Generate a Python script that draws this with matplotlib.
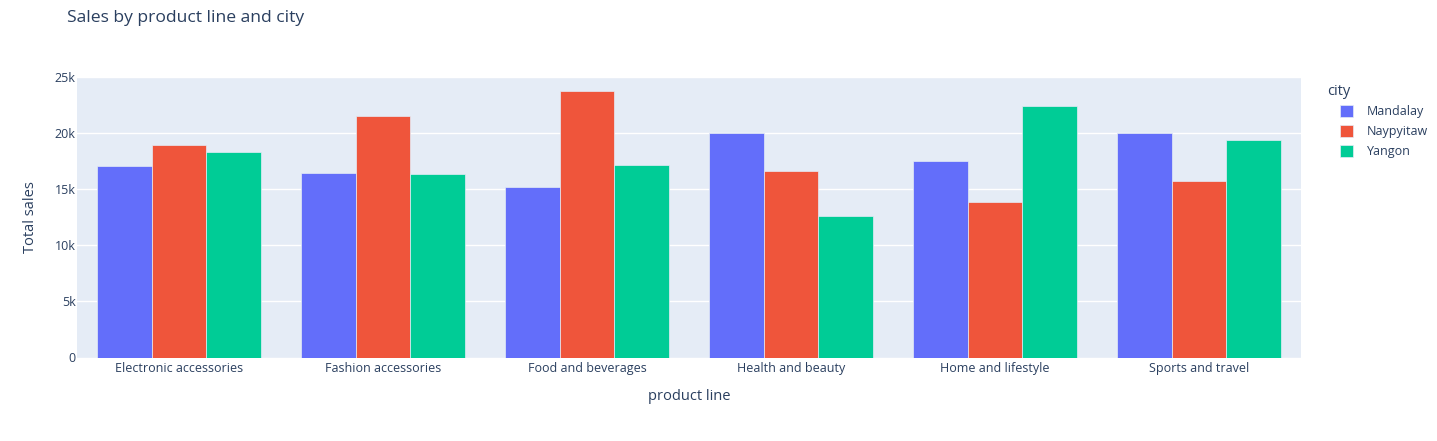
import matplotlib
matplotlib.use("Agg")
import matplotlib.pyplot as plt
from matplotlib.patches import Rectangle
import numpy as np

categories = ["Electronic accessories", "Fashion accessories", "Food and beverages",
              "Health and beauty", "Home and lifestyle", "Sports and travel"]
cities = ["Mandalay", "Naypyitaw", "Yangon"]
mandalay = [17051.44, 16413.32, 15214.89, 19980.66, 17549.16, 19988.20]
naypyitaw = [18968.97, 21560.07, 23766.86, 16615.33, 13895.55, 15761.93]
yangon = [18317.11, 16332.51, 17163.10, 12597.75, 22417.19, 19372.70]
colors = ["#636efa", "#EF553B", "#00cc96"]
y_ticks = [0, 5000, 10000, 15000, 20000, 25000]
y_ticklabels = ["0", "5k", "10k", "15k", "20k", "25k"]

plt.rcParams['font.family'] = ['Open Sans', 'DejaVu Sans']
txt = "#2a3f5f"

fig = plt.figure(figsize=(14.37, 4.41), dpi=100)
W, H = 1437, 441
L, R, T, B = 77, 1301, 77, 357.5
ax = fig.add_axes([L / W, (H - B) / H, (R - L) / W, (B - T) / H])
ax.set_facecolor("#E5ECF6")

x = np.arange(len(categories))
bw = 0.8 / 3
series = [mandalay, naypyitaw, yangon]
for i, (vals, c, name) in enumerate(zip(series, colors, cities)):
    ax.bar(x + (i - 1) * bw, vals, width=bw, color=c, edgecolor="#E5ECF6",
           linewidth=0.5, label=name, zorder=3)

ax.set_xlim(-0.5, len(categories) - 0.5)
ax.set_ylim(0, 25000)
ax.set_yticks(y_ticks)
ax.set_yticklabels(y_ticklabels)
ax.set_xticks(x)
ax.set_xticklabels(categories)
ax.grid(axis="y", color="white", linewidth=1, zorder=0)
ax.set_axisbelow(True)
for s in ax.spines.values():
    s.set_visible(False)
ax.tick_params(axis="both", length=0, colors=txt, labelsize=9)
ax.tick_params(axis="y", pad=1)
ax.tick_params(axis="x", pad=3)

fig.text((L + R) / 2 / W, 1 - 396 / H, "product line", fontsize=10.5, color=txt,
         ha="center", va="center")
fig.text(31 / W, 1 - 217 / H, "Total sales", fontsize=10.5, color=txt,
         ha="center", va="center", rotation=90)

fig.text(67 / W, 1 - 18 / H, "Sales by product line and city", fontsize=12.6,
         color=txt, ha="left", va="center")

# legend (drawn manually to match the reference layout)
fig.text(1327 / W, 1 - 91.5 / H, "city", fontsize=10.5, color=txt,
         ha="left", va="center")
for k, (name, c) in enumerate(zip(cities, colors)):
    yc = 111 + 20 * k
    fig.patches.append(Rectangle((1340 / W, 1 - (yc + 6) / H), 13 / W, 12 / H,
                                 transform=fig.transFigure, facecolor=c,
                                 edgecolor="#E5ECF6", linewidth=0.5))
    fig.text(1367 / W, 1 - yc / H, name, fontsize=9, color=txt,
             ha="left", va="center")

fig.savefig("out.png", dpi=100, facecolor="white")
